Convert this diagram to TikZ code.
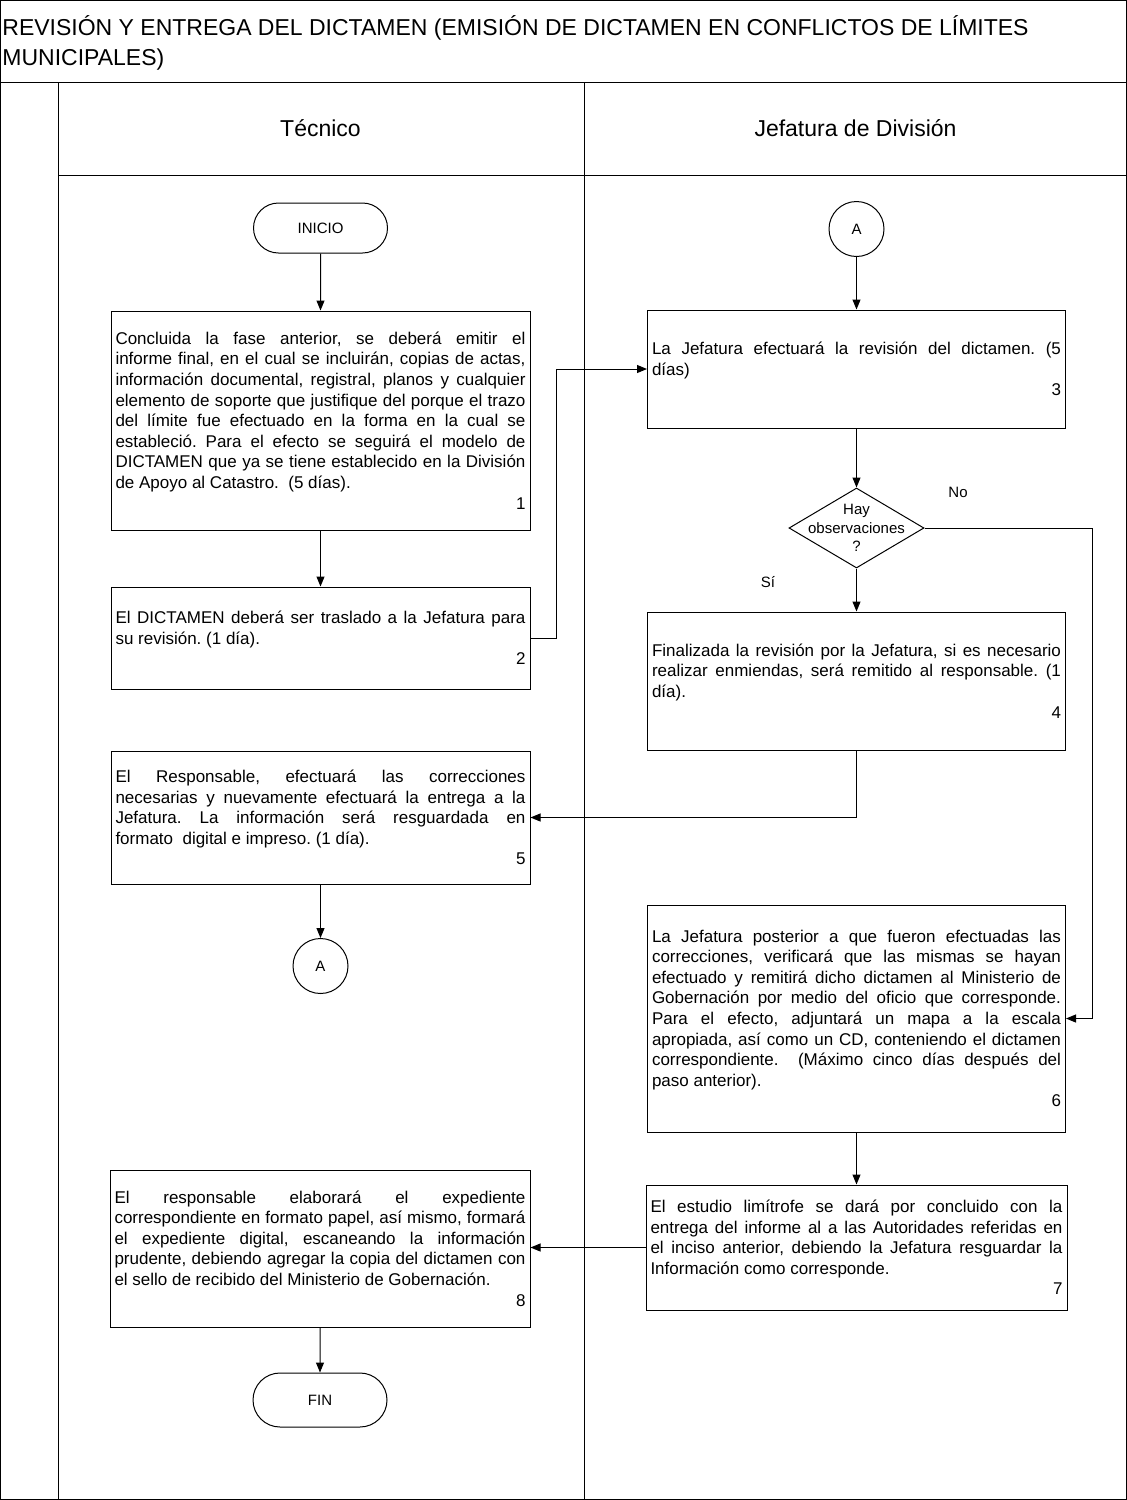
\documentclass[tikz,border=0pt]{standalone}
\usepackage{fontspec}
\setmainfont{Liberation Sans}
\usetikzlibrary{arrows.meta,shapes.geometric,shapes.misc}
\setlength{\parindent}{0pt}
\frenchspacing
\newcommand{\textocaja}{\fontsize{8.5}{10.3}\selectfont\emergencystretch=2em}
\newcommand{\textochico}{\fontsize{7.5}{9.25}\selectfont}
\newcommand{\textotitulo}{\fontsize{11.5}{15}\selectfont}
\tikzset{
  marco/.style={draw=black, line width=0.5pt},
  caja/.style={draw=black, line width=0.5pt, text width=205pt, inner xsep=2.25pt, inner ysep=0pt, align=justify, font=\textocaja},
  terminal/.style={draw=black, line width=0.5pt, rounded rectangle, minimum width=67pt, inner sep=0pt, font=\textochico},
  conector/.style={draw=black, line width=0.5pt, circle, minimum size=27.5pt, inner sep=0pt, font=\textochico},
  decision/.style={draw=black, line width=0.5pt, diamond, minimum width=67.5pt, minimum height=40pt, inner sep=0pt},
  etiqueta/.style={inner sep=0pt, font=\textochico},
  carril/.style={inner sep=0pt, font=\textotitulo},
  flecha/.style={line width=0.5pt, -{Triangle[length=5pt,width=4pt]}}
}
\begin{document}
\begin{tikzpicture}[x=0.5pt,y=0.5pt,yscale=-1,xscale=1]
	\useasboundingbox (0,0) rectangle (1127,1500);

	%Shape: Rectangle [marco]
	\draw [marco] (0.5,0.5) rectangle (1126.5,1499.5);
	%Straight Lines [carriles]
	\draw [marco] (0,82) -- (1127,82);
	\draw [marco] (58,82) -- (58,1500);
	\draw [marco] (584,82) -- (584,1500);
	\draw [marco] (58,175) -- (1127,175);

	% Text Node
	\node [carril, anchor=west, align=left] (titulo) at (2,43) {REVISIÓN Y ENTREGA DEL DICTAMEN (EMISIÓN DE DICTAMEN EN CONFLICTOS DE LÍMITES\\MUNICIPALES)};
	% Text Node
	\node [carril] (tecnico) at (320.5,128) {Técnico};
	% Text Node
	\node [carril] (jefatura) at (855.5,128) {Jefatura de División};

	%Shape: Terminal [inicio]
	\node [terminal, minimum height=25pt] (inicio) at (320.5,228) {INICIO};
	%Shape: Rectangle [paso 1]
	\node [caja, minimum height=109.5pt] (paso1) at (320.5,420.5) {Concluida la fase anterior, se deberá emitir el\linebreak informe final, en el cual se incluirán, copias de actas,\linebreak información documental, registral, planos y cualquier\linebreak elemento de soporte que justifique del porque el trazo\linebreak del límite fue efectuado en la forma en la cual se\linebreak estableció. Para el efecto se seguirá el modelo de\linebreak DICTAMEN que ya se tiene establecido en la División\linebreak de Apoyo al Catastro.\ \ (5 días).\par\hfill 1};
	%Shape: Rectangle [paso 2]
	\node [caja, minimum height=51pt] (paso2) at (320.5,638) {El DICTAMEN deberá ser traslado a la Jefatura para\linebreak su revisión. (1 día).\par\hfill 2};
	%Shape: Rectangle [paso 5]
	\node [caja, minimum height=66.5pt] (paso5) at (320.5,817.5) {El Responsable, efectuará las correcciones\linebreak necesarias y nuevamente efectuará la entrega a la\linebreak Jefatura. La información será resguardada en\linebreak formato\ \ digital e impreso. (1 día).\par\hfill 5};
	%Shape: Circle [conector A]
	\node [conector] (conA2) at (320.5,966) {A};
	%Shape: Rectangle [paso 8]
	\node [caja, text width=205.5pt, minimum height=78.5pt] (paso8) at (320,1248.5) {El responsable elaborará el expediente\linebreak correspondiente en formato papel, así mismo, formará\linebreak el expediente digital, escaneando la información\linebreak prudente, debiendo agregar la copia del dictamen con\linebreak el sello de recibido del Ministerio de Gobernación.\par\hfill 8};
	%Shape: Terminal [fin]
	\node [terminal, minimum height=27pt] (fin) at (320,1400) {FIN};

	%Shape: Circle [conector A]
	\node [conector] (conA1) at (856.5,229) {A};
	%Shape: Rectangle [paso 3]
	\node [caja, text width=204.5pt, minimum height=59pt] (paso3) at (856.5,369) {La Jefatura efectuará la revisión del dictamen. (5\linebreak días)\par\hfill 3};
	%Shape: Diamond [observaciones]
	\node [decision] (obs) at (856.5,528) {};
	% Text Node
	\node [etiqueta, align=center] (obstexto) at (obs) {Hay\\observaciones\\?};
	% Text Node
	\node [etiqueta] (no) at (958,492) {No};
	% Text Node
	\node [etiqueta] (si) at (768,582) {Sí};
	%Shape: Rectangle [paso 4]
	\node [caja, text width=204.5pt, minimum height=69pt] (paso4) at (856.5,681) {Finalizada la revisión por la Jefatura, si es necesario\linebreak realizar enmiendas, será remitido al responsable. (1\linebreak día).\par\hfill 4};
	%Shape: Rectangle [paso 6]
	\node [caja, text width=204.5pt, minimum height=113.5pt] (paso6) at (856.5,1018.5) {La Jefatura posterior a que fueron efectuadas las\linebreak correcciones, verificará que las mismas se hayan\linebreak efectuado y remitirá dicho dictamen al Ministerio de\linebreak Gobernación por medio del oficio que corresponde.\linebreak Para el efecto, adjuntará un mapa a la escala\linebreak apropiada, así como un CD, conteniendo el dictamen\linebreak correspondiente.\ \ (Máximo cinco días después del\linebreak paso anterior).\par\hfill 6};
	%Shape: Rectangle [paso 7]
	\node [caja, text width=206pt, minimum height=62.5pt] (paso7) at (856.5,1247.5) {El estudio limítrofe se dará por concluido con la\linebreak entrega del informe al a las Autoridades referidas en\linebreak el inciso anterior, debiendo la Jefatura resguardar la\linebreak Información como corresponde.\par\hfill 7};

	%Straight Lines [flujo]
	\draw [flecha] (inicio) -- (paso1);
	\draw [flecha] (paso1) -- (paso2);
	\draw [flecha] (paso2.east) -- ++(26,0) |- (paso3.west);
	\draw [flecha] (conA1) -- (paso3);
	\draw [flecha] (paso3) -- (obs);
	\draw [flecha] (obs) -- (paso4);
	\draw [flecha] (obs.east) -- ++(167.5,0) |- (paso6.east);
	\draw [flecha] (paso4.south) |- (paso5.east);
	\draw [flecha] (paso5) -- (conA2);
	\draw [flecha] (paso6) -- (paso7);
	\draw [flecha] (paso7.west) -- (paso7.west -| paso8.east);
	\draw [flecha] (paso8) -- (fin);

\end{tikzpicture}
\end{document}
